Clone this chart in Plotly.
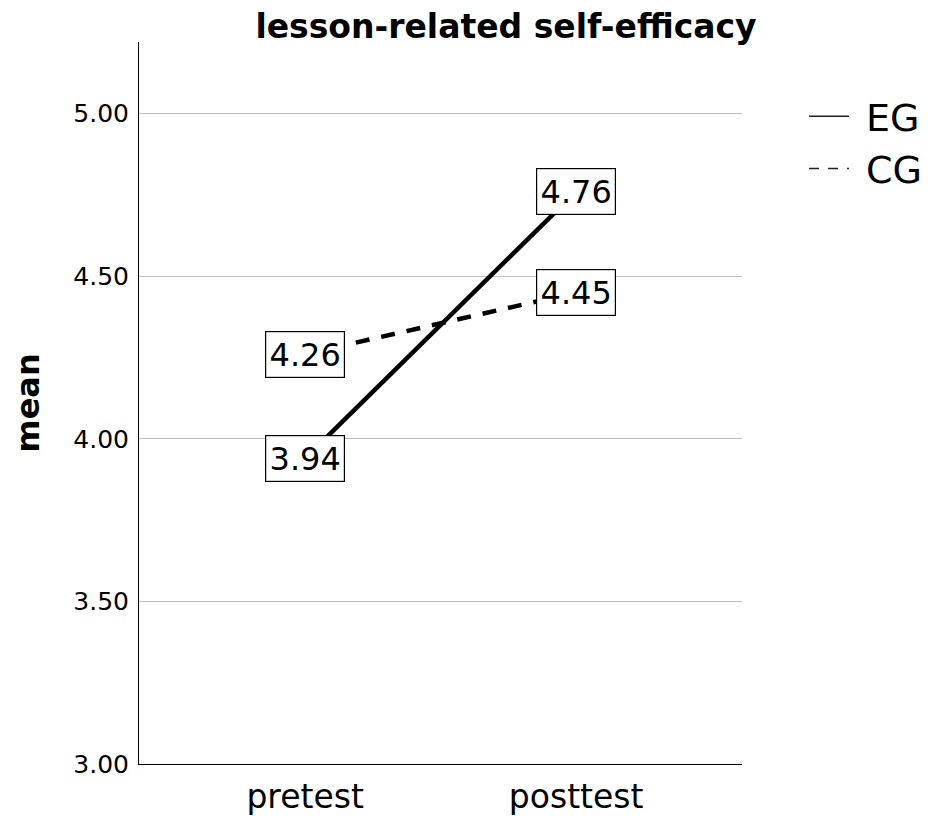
import plotly.graph_objects as go

categories = ["pretest", "posttest"]
eg_values = [3.94, 4.76]
cg_values = [4.26, 4.45]
y_ticks = [3.0, 3.5, 4.0, 4.5, 5.0]
y_tick_labels = ["3.00", "3.50", "4.00", "4.50", "5.00"]

FONT = "DejaVu Sans, Liberation Sans, Arial, sans-serif"
x_idx = list(range(len(categories)))

W, H = 928, 816
L, R, T, B = 139, 186, 42, 52
PW, PH = W - L - R, H - T - B

fig = go.Figure()
fig.add_trace(go.Scatter(x=x_idx, y=eg_values, mode="lines",
                         line=dict(color="black", width=4.5), showlegend=False))
fig.add_trace(go.Scatter(x=x_idx, y=cg_values, mode="lines",
                         line=dict(color="black", width=4.5, dash="14px,12px"), showlegend=False))
# legend-only traces with thin lines
fig.add_trace(go.Scatter(x=[None], y=[None], mode="lines", name="\u00a0EG",
                         line=dict(color="#222", width=1.5)))
fig.add_trace(go.Scatter(x=[None], y=[None], mode="lines", name="\u00a0CG",
                         line=dict(color="#222", width=1.5, dash="10px,9px")))

for vals in (eg_values, cg_values):
    for xi, v in zip(x_idx, vals):
        fig.add_annotation(x=xi, y=v, text=f"{v:.2f}", showarrow=False,
                           font=dict(family=FONT, size=32, color="black"),
                           bgcolor="white", bordercolor="black", borderwidth=1.2,
                           borderpad=3, width=72, height=39,
                           xanchor="center", yanchor="middle")

fig.update_layout(
    width=W, height=H,
    margin=dict(l=L, r=R, t=T, b=B, autoexpand=False),
    plot_bgcolor="white", paper_bgcolor="white",
    font=dict(family=FONT, color="black"),
    title=dict(text="<b>lesson-related self-efficacy</b>", x=506 / W, xanchor="center",
               y=1 - 26 / H, yanchor="middle", font=dict(size=33, family=FONT)),
    legend=dict(x=(804 - L) / PW, y=(H - B - 85) / PH, xanchor="left", yanchor="top",
                font=dict(size=38, family=FONT), bgcolor="rgba(0,0,0,0)",
                tracegroupgap=0, itemwidth=40),
    xaxis=dict(range=[-0.613, 1.612], tickmode="array", tickvals=x_idx,
               ticktext=categories, tickfont=dict(size=33), showgrid=False,
               showline=True, linecolor="black", linewidth=1, zeroline=False,
               ticks="", ticklen=0, ticklabelstandoff=3, automargin=False),
    yaxis=dict(range=[3.0, 5.22], tickmode="array", tickvals=y_ticks,
               ticktext=y_tick_labels, tickfont=dict(size=25),
               showgrid=True, gridcolor="#c0c0c0", gridwidth=1.2,
               showline=True, linecolor="black", linewidth=1, zeroline=False,
               ticks="", ticklen=0, ticklabelstandoff=4, automargin=False,
               title=dict(text="<b>mean</b>", font=dict(size=32), standoff=24)),
)

fig.write_html("out.html", config={"displayModeBar": False},
               post_script="document.body.style.margin='0';document.body.style.overflow='hidden';")
